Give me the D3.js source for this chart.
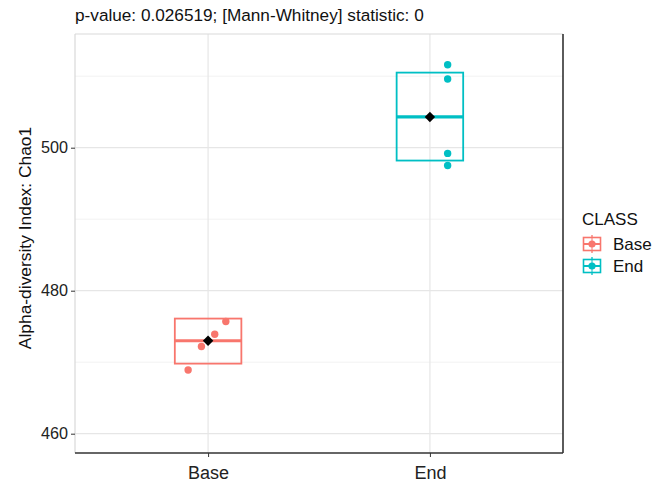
<!doctype html>
<html>
<head>
<meta charset="utf-8">
<title>Alpha diversity Chao1</title>
<script src="https://cdn.jsdelivr.net/npm/d3@7"></script>
<style>
*{margin:0;padding:0;}
body{background:white;}
text{font-family:"Liberation Sans", Arial, sans-serif;}
</style>
</head>
<body>
<script>
// data
var classes = ["Base", "End"];
var colors = ["#F8766D", "#00BFC4"];
var boxLower = [469.8, 498.2];
var boxMiddle = [473.0, 504.3];
var boxUpper = [476.1, 510.5];
var means = [473.0, 504.3];
var pointClass = ["Base", "Base", "Base", "Base", "End", "End", "End", "End"];
var pointValue = [475.7, 473.9, 472.2, 468.9, 511.6, 509.6, 499.2, 497.5];
var pointOffset = [0.08, 0.03, -0.03, -0.09, 0.08, 0.08, 0.08, 0.08];
var yTicks = [460, 480, 500];
var yMinor = [470, 490, 510];
var title = "p-value: 0.026519; [Mann-Whitney] statistic: 0";

var W = 659, H = 486;
var m = {left: 75, right: 96, top: 34, bottom: 33};

var svg = d3.select("body").append("svg").attr("width", W).attr("height", H);

var x = d3.scaleLinear().domain([0.4, 2.6]).range([m.left, W - m.right]);
var y = d3.scaleLinear().domain([457.3, 515.9]).range([H - m.bottom, m.top]);
var cx = function(c){ return x(classes.indexOf(c) + 1); };
var bw = x(1.3) - x(1);

// grid
var g = svg.append("g");
g.selectAll(".minor").data(yMinor).enter().append("line")
  .attr("x1", m.left).attr("x2", W - m.right)
  .attr("y1", d => y(d)).attr("y2", d => y(d))
  .attr("stroke", "#f2f2f2").attr("stroke-width", 1);
g.selectAll(".major").data(yTicks).enter().append("line")
  .attr("x1", m.left).attr("x2", W - m.right)
  .attr("y1", d => y(d)).attr("y2", d => y(d))
  .attr("stroke", "#e6e6e6").attr("stroke-width", 1.2);
g.selectAll(".vmajor").data(classes).enter().append("line")
  .attr("x1", d => cx(d)).attr("x2", d => cx(d))
  .attr("y1", m.top).attr("y2", H - m.bottom)
  .attr("stroke", "#e6e6e6").attr("stroke-width", 1.2);

// panel borders: light top/left, dark bottom/right
svg.append("line").attr("x1", m.left).attr("x2", W - m.right).attr("y1", m.top).attr("y2", m.top)
  .attr("stroke", "#d9d9d9").attr("stroke-width", 1.2);
svg.append("line").attr("x1", m.left).attr("x2", m.left).attr("y1", m.top).attr("y2", H - m.bottom)
  .attr("stroke", "#d9d9d9").attr("stroke-width", 1.2);

// boxes
var boxes = svg.append("g");
classes.forEach(function(c, i){
  boxes.append("rect")
    .attr("x", cx(c) - bw / 2).attr("width", bw)
    .attr("y", y(boxUpper[i])).attr("height", y(boxLower[i]) - y(boxUpper[i]))
    .attr("fill", "none").attr("stroke", colors[i]).attr("stroke-width", 1.8);
  boxes.append("line")
    .attr("x1", cx(c) - bw / 2).attr("x2", cx(c) + bw / 2)
    .attr("y1", y(boxMiddle[i])).attr("y2", y(boxMiddle[i]))
    .attr("stroke", colors[i]).attr("stroke-width", 3.2);
});

// points
svg.append("g").selectAll("circle").data(pointValue).enter().append("circle")
  .attr("cx", (d, i) => x(classes.indexOf(pointClass[i]) + 1 + pointOffset[i]))
  .attr("cy", d => y(d))
  .attr("r", 3.7)
  .attr("fill", (d, i) => colors[classes.indexOf(pointClass[i])]);

// means
svg.append("g").selectAll("path").data(means).enter().append("path")
  .attr("d", d3.symbol().type(d3.symbolDiamond2).size(70))
  .attr("transform", (d, i) => "translate(" + cx(classes[i]) + "," + y(d) + ")")
  .attr("fill", "black");

svg.append("line").attr("x1", m.left).attr("x2", W - m.right).attr("y1", H - m.bottom).attr("y2", H - m.bottom)
  .attr("stroke", "#333").attr("stroke-width", 1.6);
svg.append("line").attr("x1", W - m.right).attr("x2", W - m.right).attr("y1", m.top).attr("y2", H - m.bottom)
  .attr("stroke", "#333").attr("stroke-width", 1.6);

// axes
var ya = svg.append("g").attr("transform", "translate(" + m.left + ",0)")
  .call(d3.axisLeft(y).tickValues(yTicks).tickSize(4).tickPadding(3));
ya.select(".domain").remove();
ya.selectAll("text").attr("font-size", 16.2).attr("fill", "#222");
ya.selectAll("line").attr("stroke", "#333");

var xa = svg.append("g").attr("transform", "translate(0," + (H - m.bottom) + ")")
  .call(d3.axisBottom(x).tickValues([1, 2]).tickFormat(d => classes[d - 1]).tickSize(4).tickPadding(9));
xa.select(".domain").remove();
xa.selectAll("text").attr("font-size", 18).attr("fill", "#222");
xa.selectAll("line").attr("stroke", "#333");

svg.append("text").attr("transform", "translate(31,238) rotate(-90)")
  .attr("text-anchor", "middle").attr("font-size", 17.4).attr("fill", "#111")
  .text("Alpha-diversity Index: Chao1");

svg.append("text").attr("x", m.left).attr("y", 21).attr("font-size", 17.2).attr("fill", "#111")
  .text(title);

// legend
var lg = svg.append("g").attr("transform", "translate(582,0)");
lg.append("text").attr("x", 0).attr("y", 225).attr("font-size", 17).attr("fill", "#111").text("CLASS");
classes.forEach(function(c, i){
  var ky = 244 + i * 22;
  var k = lg.append("g").attr("transform", "translate(10," + ky + ")");
  k.append("line").attr("x1", 0).attr("x2", 0).attr("y1", -9).attr("y2", 9)
    .attr("stroke", colors[i]).attr("stroke-width", 1.3);
  k.append("rect").attr("x", -8.5).attr("y", -6.5).attr("width", 17).attr("height", 13)
    .attr("fill", "white").attr("stroke", colors[i]).attr("stroke-width", 1.6);
  k.append("line").attr("x1", -8.5).attr("x2", 8.5).attr("y1", 0).attr("y2", 0)
    .attr("stroke", colors[i]).attr("stroke-width", 2);
  k.append("line").attr("x1", 0).attr("x2", 0).attr("y1", -6.5).attr("y2", 6.5)
    .attr("stroke", colors[i]).attr("stroke-width", 1);
  k.append("circle").attr("r", 3.6).attr("fill", colors[i]);
  lg.append("text").attr("x", 31).attr("y", ky + 6).attr("font-size", 17).attr("fill", "#111").text(c);
});
</script>
</body>
</html>
